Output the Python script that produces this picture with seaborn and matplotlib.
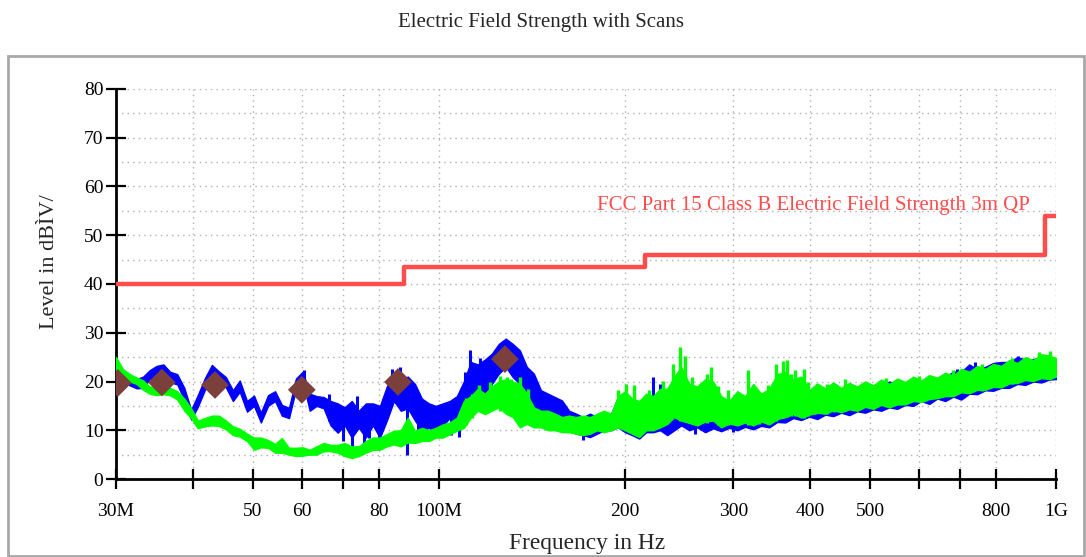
import numpy as np
import pandas as pd
import matplotlib
matplotlib.use("Agg")
import matplotlib.pyplot as plt
import seaborn as sns
from matplotlib.ticker import FixedLocator, FixedFormatter, NullLocator, MultipleLocator, NullFormatter
from matplotlib.patches import Rectangle

# ---------------- data (MHz / dBuV/m) ----------------
freq_mhz = [30, 30.8, 31.6, 32.4, 33.2, 34, 34.9, 35.8, 36.7, 37.7, 38.7, 39.7, 40.7, 41.8, 42.9, 44,
            45.2, 46.4, 47.6, 48.9, 50.2, 51.5, 52.9, 54.3, 55.7, 57.2, 58.7, 60.2, 61.8, 63.4, 65.1,
            66.8, 68.6, 70.4, 72.3, 74.2, 76.2, 78.2, 80.3, 82.4, 84.6, 86.8, 89.1, 91.5, 93.9, 96.4, 98.9,
            101.5, 104.2, 107, 109.8, 112.7, 115.7, 118.8, 121.9, 125.1, 128.4, 131.8, 135.3, 138.9,
            142.6, 146.4, 150.3, 154.3, 158.4, 162.6, 166.9, 171.3, 175.8, 180.5, 185.3, 190.2, 195.2,
            200.4, 205.7, 211.2, 216.8, 222.5, 228.4, 234.5, 240.7, 247.1,
            254.6, 262.3, 270.2, 278.4, 286.8, 295.5, 304.5, 313.7, 323.2, 333, 343.1, 353.5, 364.2,
            375.2, 386.6, 398.3, 410.4, 422.8, 435.6, 448.8, 462.4, 476.4, 490.8, 505.7, 521, 536.8,
            553.1, 569.9, 587.2, 605, 623.3, 642.2, 661.6, 681.6, 702.3, 723.6, 745.5, 768.1, 791.4,
            815.4, 840.1, 865.6, 891.8, 918.8, 946.6, 975.3, 1000]

# body of the blue (peak) scan: lower / upper edge at each frequency
blue_lo = [20.5, 19.9, 19.2, 18.6, 18.7, 20.5, 21.3, 21.4, 19.9, 19.4, 16.2, 12.2, 14.8, 18.3, 21.4, 20,
           18.8, 16, 17.9, 13.8, 15, 11.6, 15, 16, 13, 12.5, 18.4, 20,
           14, 15, 14.5, 11, 9.5, 11, 8.5, 10.5, 8.5, 11, 8.5, 12, 16, 14, 14.5, 12, 10, 10.5, 9.5,
           11, 12.5, 11, 13.5, 15, 18, 17, 19.5, 21.6, 23, 20.9, 19.5, 16.8,
           14, 12.7, 12, 11.3, 10.6, 10, 9.3, 9, 8.6, 9.3, 10, 10, 10.6,
           9.6, 9, 8.3, 9.6, 9.6, 10, 9, 10, 11,
           10, 10.6, 9.6, 10.4, 9.8, 10.5, 10, 10.7, 10.2, 10.9, 10.6, 11.7, 11.6,
           12.5, 12.1, 12.8, 12.3, 13.2, 12.9, 13.6, 13.1, 13.9, 13.6, 14.3, 14, 14.7,
           14.4, 15.2, 15, 16, 15.4, 16.5, 16, 16.9, 16.3, 17.5, 17.4, 18.2, 18.1,
           18.7, 18.7, 19.5, 19.3, 20, 19.8, 20.4, 20.5]
blue_hi = [22.8, 21.6, 20.9, 20.5, 21, 22.3, 23.2, 23.5, 22, 21.5, 18.7, 14.2, 17.2, 20.7, 23.4, 22.1,
           20.9, 18.2, 20.2, 16, 17.1, 13.6, 17.2, 18, 15.2, 14.6, 20.6, 22,
           17.5, 17, 16.8, 16, 15.5, 14.7, 16, 14, 15.5, 15.5, 15, 19, 21.5, 20.5, 21, 19.5, 16.5, 15.5, 15,
           15.5, 16, 17, 20, 24, 23.5, 24.5, 25.7, 27.7, 28.8, 27.7, 26.4, 23,
           21.6, 18.2, 17.5, 16.8, 16.1, 14, 13.4, 12.7, 13.4, 12.7, 13.4, 13.4, 16.8,
           15, 14, 13, 14, 16, 17, 16, 18, 19,
           16, 15, 15, 15, 14, 13, 14, 14, 14, 14, 14, 15, 16,
           16, 16, 16, 16, 17, 17, 18.5, 18.5, 18, 19, 18.5, 19, 20,
           19.5, 19.5, 20, 20, 20, 20.5, 21, 22, 22, 23.5, 22.5, 23, 23.8,
           24, 24, 25, 24.5, 24.6, 25, 25.3, 24]

# narrow spikes of the blue scan (frequency, bottom, top)
blue_spike_freq = [60.6, 66.5, 70.0, 72.3, 73.8, 75.6, 77.2, 80.0, 84.0, 86.5, 88.7, 92.5, 95.5,
                   99.5, 104.5, 107.8, 110.3, 112.5, 116.5, 171.3, 222.5, 228.4, 240.7, 247.1,
                   260, 300, 690, 738, 868]
blue_spike_lo = [18, 12, 7.8, 6.0, 12, 7.1, 8.5, 6.4, 17, 18, 5.0, 9, 9.5,
                 8.8, 9, 8.6, 17, 20, 19, 7.9, 15, 15, 16, 17,
                 9.3, 9.6, 20, 21, 23]
blue_spike_hi = [22.3, 17.5, 12, 12, 17, 12, 12, 11, 22.5, 23, 16, 13, 13,
                 12, 13, 12, 22, 26.4, 24.8, 11, 20.9, 19.5, 20.5, 22,
                 12, 12, 22.6, 24, 25.2]

# body of the green (average) scan
green_lo = [21, 20.8, 20, 19.5, 18.3, 17.5, 17.2, 17.4, 17.2, 16.3, 14, 12.5, 10.4, 10.8, 11, 10.9,
            10.2, 9, 8.7, 7.8, 6, 6.5, 6.4, 5.4, 5.4, 5, 4.7, 4.8, 5, 5, 5.7,
            5.7, 5.4, 4.7, 4.3, 4.7, 5.4, 6, 6, 6.7, 7.1, 6.7, 7.5, 7.4, 7.8, 7.8, 8.5,
            8.5, 9.2, 9.9, 10.5, 12.6, 14, 13.3, 14, 14.7, 13.4, 12.7, 10.6, 11.3,
            10.6, 10.6, 10, 10, 9.6, 9.6, 9.3, 9, 9.3, 10, 9.6, 10, 10.6,
            10, 9.3, 8.6, 10, 10, 10.6, 11.3, 12.7, 12,
            11.5, 11, 11.8, 12, 10.6, 11.4, 11, 11.6, 11, 11.8, 11.2, 12.3, 12.7,
            13.4, 12.6, 13.2, 13.6, 13.4, 14.1, 13.7, 14.3, 14, 14.8, 14.4, 15.2, 14.7,
            15.3, 15.3, 16, 15.8, 16.4, 16.6, 17, 17, 17.8, 17.6, 18.3, 18.3, 18.9,
            18.8, 19.6, 19.7, 20.3, 20.1, 20.7, 20.5, 21]
green_hi = [25, 22.5, 21.5, 20.8, 20.2, 19, 18.6, 18.8, 18.7, 18, 16.5, 14.5, 12, 12.5, 13, 13,
            12, 10.8, 10.3, 9.3, 8.5, 8.5, 8, 7.2, 8.4, 6.4, 6.4, 6.5, 6, 6.7, 7.4,
            7, 7, 7.4, 6.7, 6.7, 7.8, 8.5, 8.5, 9.2, 9.9, 10, 12.6, 9.9, 10.5, 10, 10.5,
            11.2, 11.6, 12.6, 16, 17, 18.5, 17.5, 19, 20, 20.5, 20, 19.5, 17.5,
            14.7, 14, 14, 13.4, 12.7, 13, 12.7, 13, 12.7, 13.4, 14, 13.4, 17,
            18, 16.5, 16, 17.5, 17, 18.5, 18.5, 21, 23,
            19.5, 19, 20.5, 20, 17, 16, 18, 17, 19.5, 17.5, 18.5, 21.5, 22,
            20.5, 21, 18.2, 19.6, 18.6, 19.8, 18.7, 19.7, 19, 20, 19.2, 20.4, 19.5,
            20.6, 19.9, 21, 20.2, 21.3, 20.8, 21.8, 21.2, 22.6, 22, 23.2, 22.6, 23.6,
            23.2, 24.4, 23.8, 25, 24.4, 25.6, 25.3, 24.8]

# narrow spikes of the green scan (frequency, bottom, top)
green_spike_freq = [110.5, 113, 116, 121, 125.9, 128.8, 131.1, 135.5, 139.5, 195.5, 201, 207.3,
                    219.4, 230.6, 239.5, 245.6, 250.2, 257.4, 265, 272.3, 276.5, 283, 293.9,
                    305.7, 317.4, 330.5, 341.3, 352.4, 361.5, 366.3, 372, 378, 390, 396, 407.6,
                    425.6, 436.2, 456, 530, 600, 680, 760, 850, 940, 978]
green_spike_lo = [11, 12.6, 14, 14, 14, 13.4, 13, 11, 11.5, 11, 10.5, 10,
                  10.5, 11, 12.7, 12, 12, 11.5, 11.5, 11.5, 12, 11, 11,
                  11, 11, 11.3, 11.3, 12, 12.5, 12.7, 13, 13, 12.5, 13, 13.4,
                  13.4, 13.7, 14, 15, 16, 17, 18, 19.5, 20.5, 20.5]
green_spike_hi = [16.7, 17.4, 19.2, 19.8, 21.2, 20.9, 20.6, 20.9, 18.5, 18.2, 19.5, 19.2,
                  18.2, 20.2, 23.6, 27, 25.3, 20.9, 19.5, 21.6, 23, 19, 18.2,
                  17.8, 22.3, 17.8, 19.2, 23.6, 24.3, 24.5, 21.5, 22.3, 22.6, 20, 18.8,
                  19.5, 19.2, 20.5, 20.8, 21.2, 22.4, 23.6, 24.8, 26, 26.2]

limit_freq = [30, 88, 216, 960, 1000]
limit_level = [40, 43.5, 46, 54, 54]
limit_name = "FCC Part 15 Class B Electric Field Strength 3m QP"

peak_freq = [30.2, 35.6, 43.4, 60.0, 85.9, 128.0]
peak_level = [19.7, 19.8, 19.3, 18.3, 19.9, 24.6]

xtick_values = [30, 40, 50, 60, 70, 80, 100, 200, 300, 400, 500, 600, 700, 800, 1000]
xtick_labels = ["30M", "", "50", "60", "", "80", "100M", "200", "300", "400", "500", "", "", "800", "1G"]

title = "Electric Field Strength with Scans"
xlabel = "Frequency in Hz"
ylabel = "Level in dB\u00ccV/"

# ---------------- style ----------------
sns.set_theme(style="white")
plt.rcParams["font.family"] = ["Liberation Serif", "DejaVu Serif"]

W, H = 1086, 557
fig = plt.figure(figsize=(W / 100, H / 100), dpi=100)
ax = fig.add_axes([116 / W, 1 - 479 / H, (1056 - 116) / W, (479 - 89) / H])

blue = "#0000ff"
green = "#00ff00"
red = "#ff4d4d"

ax.fill_between(freq_mhz, blue_lo, blue_hi, color=blue, lw=1.0, edgecolor=blue, zorder=2)
ax.vlines(blue_spike_freq, blue_spike_lo, blue_spike_hi, color=blue, lw=2.2, zorder=2.2)
ax.fill_between(freq_mhz, green_lo, green_hi, color=green, lw=1.0, edgecolor=green, zorder=3)
ax.vlines(green_spike_freq, green_spike_lo, green_spike_hi, color=green, lw=2.4, zorder=3.2)

sns.lineplot(x=limit_freq, y=limit_level, drawstyle="steps-post", color=red, lw=3.2, ax=ax, zorder=4)
sns.scatterplot(x=peak_freq, y=peak_level, marker="D", s=200, color="#7b3f3c", edgecolor="none",
                ax=ax, zorder=5)

ax.text(180.5, 56.0, limit_name, color=red, fontsize=15, ha="left", va="center", zorder=6)

ax.set_xscale("log")
ax.set_xlim(30, 1000)
ax.set_ylim(0, 80)
ax.xaxis.set_major_locator(FixedLocator(xtick_values))
ax.xaxis.set_major_formatter(FixedFormatter(xtick_labels))
ax.xaxis.set_minor_locator(NullLocator())
ax.yaxis.set_major_locator(MultipleLocator(10))
ax.yaxis.set_minor_locator(MultipleLocator(5))
ax.yaxis.set_minor_formatter(NullFormatter())

ax.tick_params(axis="both", which="both", direction="inout", length=14, width=1.6, color="black",
               labelsize=14, labelcolor="black")
ax.tick_params(axis="x", pad=10)
ax.tick_params(axis="y", pad=2)
ax.tick_params(left=True, bottom=True)

ax.grid(False)
ax.set_axisbelow(True)
ax.grid(axis="y", which="both", ls=(0, (1, 3)), color="#b0b0b0", lw=1.0)
ax.grid(axis="x", which="major", ls=(0, (1, 3)), color="#b0b0b0", lw=1.0)

for s in ["top", "right"]:
    ax.spines[s].set_visible(False)
for s in ["left", "bottom"]:
    ax.spines[s].set_color("black")
    ax.spines[s].set_linewidth(2)
ax.set_facecolor("white")
ax.set_xlabel("")
ax.set_ylabel("")

fig.text(541 / W, 1 - 22 / H, title, ha="center", va="center", fontsize=15)
fig.text(587 / W, 1 - 543 / H, xlabel, ha="center", va="center", fontsize=16.8)
fig.text(50 / W, 1 - 262 / H, ylabel, ha="center", va="center", rotation=90, fontsize=16)

fig.patches.append(Rectangle((8 / W, 1 / H), (1084 - 8) / W, (555 - 55) / H,
                             transform=fig.transFigure, fill=False, edgecolor="#a8a8a8", lw=2))

fig.savefig("out.png", dpi=100)
